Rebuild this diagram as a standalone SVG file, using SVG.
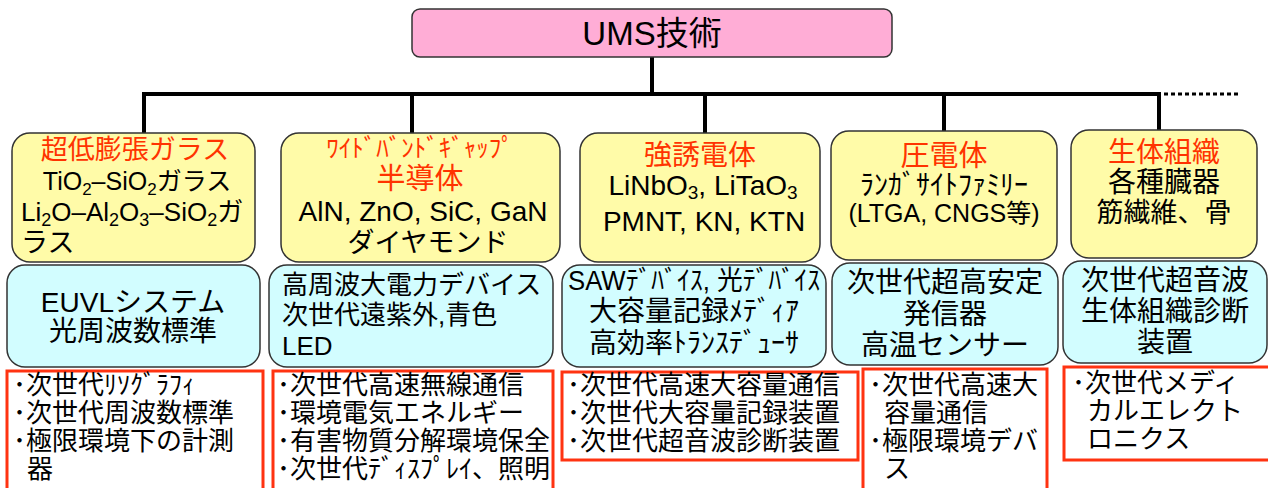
<svg xmlns="http://www.w3.org/2000/svg" width="1268" height="488" viewBox="0 0 1268 488">
<style>
text{font-family:'Liberation Sans','Noto Sans CJK JP',sans-serif;fill:#000}
.t{fill:#FF3300}
.m{text-anchor:middle}
.y{fill:#FFFBA8;stroke:#333;stroke-width:1.5}
.c{fill:#D2FDFF;stroke:#333;stroke-width:1.5}
.r{fill:#fff;stroke:#FF3311;stroke-width:3}
.rt{font-size:26px}
</style>
<rect width="1268" height="488" fill="#fff"/>
<g id="connectors" fill="none" stroke="#000" stroke-width="4">
<line x1="652" y1="57" x2="652" y2="94"/>
<path d="M144 133 V94 H1159 V131"/>
<line x1="412" y1="94" x2="412" y2="133"/>
<line x1="705" y1="94" x2="705" y2="133"/>
<line x1="944" y1="94" x2="944" y2="131"/>
<line x1="1164" y1="94" x2="1238" y2="94" stroke-width="3" stroke-dasharray="4 3"/>
</g>
<g id="n-ums">
<rect x="412" y="9" width="480" height="48" rx="8" fill="#FFADD6" stroke="#333" stroke-width="1.5"/>
<text class="m" x="652" y="45" font-size="33">UMS技術</text>
</g>
<g id="n-glass">
<rect class="y" x="12" y="133" width="243" height="129" rx="18"/>
<text class="m t" x="135" y="159" font-size="27">超低膨張ガラス</text>
<text class="m" x="137" y="190" font-size="25">TiO<tspan font-size="17" dy="5">2</tspan><tspan dy="-5">–SiO</tspan><tspan font-size="17" dy="5">2</tspan><tspan dy="-5">ガラス</tspan></text>
<text x="21" y="221" font-size="26">Li<tspan font-size="18" dy="5">2</tspan><tspan dy="-5">O–Al</tspan><tspan font-size="18" dy="5">2</tspan><tspan dy="-5">O</tspan><tspan font-size="18" dy="5">3</tspan><tspan dy="-5">–SiO</tspan><tspan font-size="18" dy="5">2</tspan><tspan dy="-5">ガ</tspan></text>
<text x="21" y="252" font-size="27">ラス</text>
</g>
<g id="n-semi">
<rect class="y" x="281" y="133" width="279" height="129" rx="18"/>
<text class="m t" x="420" y="157" font-size="25">ﾜｲﾄﾞﾊﾞﾝﾄﾞｷﾞｬｯﾌﾟ</text>
<text class="m t" x="420" y="189" font-size="29">半導体</text>
<text class="m" x="423" y="221" font-size="28">AlN, ZnO, SiC, GaN</text>
<text class="m" x="428" y="252" font-size="27">ダイヤモンド</text>
</g>
<g id="n-ferro">
<rect class="y" x="580" y="133" width="240" height="129" rx="18"/>
<text class="m t" x="700" y="165" font-size="28">強誘電体</text>
<text class="m" x="703" y="195" font-size="28">LiNbO<tspan font-size="19" dy="4">3</tspan><tspan dy="-4">, LiTaO</tspan><tspan font-size="19" dy="4">3</tspan></text>
<text class="m" x="704" y="231" font-size="28">PMNT, KN, KTN</text>
</g>
<g id="n-piezo">
<rect class="y" x="831" y="131" width="226" height="129" rx="18"/>
<text class="m t" x="944" y="166" font-size="29">圧電体</text>
<text class="m" x="944" y="195" font-size="28">ﾗﾝｶﾞｻｲﾄﾌｧﾐﾘｰ</text>
<text class="m" x="944" y="222" font-size="25">(LTGA, CNGS等)</text>
</g>
<g id="n-bio">
<rect class="y" x="1071" y="130" width="186" height="128" rx="18"/>
<text class="m t" x="1164" y="162" font-size="28">生体組織</text>
<text class="m" x="1164" y="192" font-size="28">各種臓器</text>
<text class="m" x="1164" y="222" font-size="27">筋繊維、骨</text>
</g>
<g id="a-glass">
<rect class="c" x="7" y="265" width="253" height="102" rx="18"/>
<text class="m" x="133" y="312" font-size="28">EUVLシステム</text>
<text class="m" x="133" y="341" font-size="28">光周波数標準</text>
</g>
<g id="a-semi">
<rect class="c" x="269" y="265" width="284" height="102" rx="18"/>
<text x="282" y="294" font-size="26">高周波大電力デバイス</text>
<text x="282" y="324" font-size="26">次世代遠紫外,青色</text>
<text x="282" y="355" font-size="26">LED</text>
</g>
<g id="a-ferro">
<rect class="c" x="562" y="265" width="264" height="102" rx="18"/>
<text class="m" x="694" y="290" font-size="27" textLength="252" lengthAdjust="spacingAndGlyphs">SAWﾃﾞﾊﾞｲｽ, 光ﾃﾞﾊﾞｲｽ</text>
<text class="m" x="694" y="321" font-size="28">大容量記録ﾒﾃﾞｨｱ</text>
<text class="m" x="694" y="353" font-size="28">高効率ﾄﾗﾝｽﾃﾞｭｰｻ</text>
</g>
<g id="a-piezo">
<rect class="c" x="832" y="263" width="226" height="102" rx="18"/>
<text class="m" x="945" y="292" font-size="28">次世代超高安定</text>
<text class="m" x="945" y="324" font-size="28">発信器</text>
<text class="m" x="945" y="355" font-size="28">高温センサー</text>
</g>
<g id="a-bio">
<rect class="c" x="1063" y="261" width="204" height="102" rx="18"/>
<text class="m" x="1165" y="290" font-size="28">次世代超音波</text>
<text class="m" x="1165" y="321" font-size="28">生体組織診断</text>
<text class="m" x="1165" y="352" font-size="28">装置</text>
</g>
<g id="u-glass">
<rect class="r" x="7" y="371" width="256" height="130"/>
<text class="rt" x="13" y="394">･次世代ﾘｿｸﾞﾗﾌｨ</text>
<text class="rt" x="13" y="422">･次世代周波数標準</text>
<text class="rt" x="13" y="450">･極限環境下の計測</text>
<text class="rt" x="27" y="478">器</text>
</g>
<g id="u-semi">
<rect class="r" x="273" y="371" width="280" height="130"/>
<text class="rt" x="277" y="394">･次世代高速無線通信</text>
<text class="rt" x="277" y="422">･環境電気エネルギー</text>
<text class="rt" x="277" y="450">･有害物質分解環境保全</text>
<text class="rt" x="277" y="478">･次世代ﾃﾞｨｽﾌﾟﾚｲ、照明</text>
</g>
<g id="u-ferro">
<rect class="r" x="562" y="372" width="296" height="88"/>
<text class="rt" x="567" y="394">･次世代高速大容量通信</text>
<text class="rt" x="567" y="422">･次世代大容量記録装置</text>
<text class="rt" x="567" y="450">･次世代超音波診断装置</text>
</g>
<g id="u-piezo">
<rect class="r" x="863" y="369" width="184" height="130"/>
<text class="rt" x="869" y="394">･次世代高速大</text>
<text class="rt" x="884" y="422">容量通信</text>
<text class="rt" x="869" y="450">･極限環境デバ</text>
<text class="rt" x="884" y="478">ス</text>
</g>
<g id="u-bio">
<rect class="r" x="1064" y="367" width="220" height="93"/>
<text class="rt" x="1072" y="392">･次世代メディ</text>
<text class="rt" x="1087" y="420">カルエレクト</text>
<text class="rt" x="1087" y="448">ロニクス</text>
</g>
</svg>
